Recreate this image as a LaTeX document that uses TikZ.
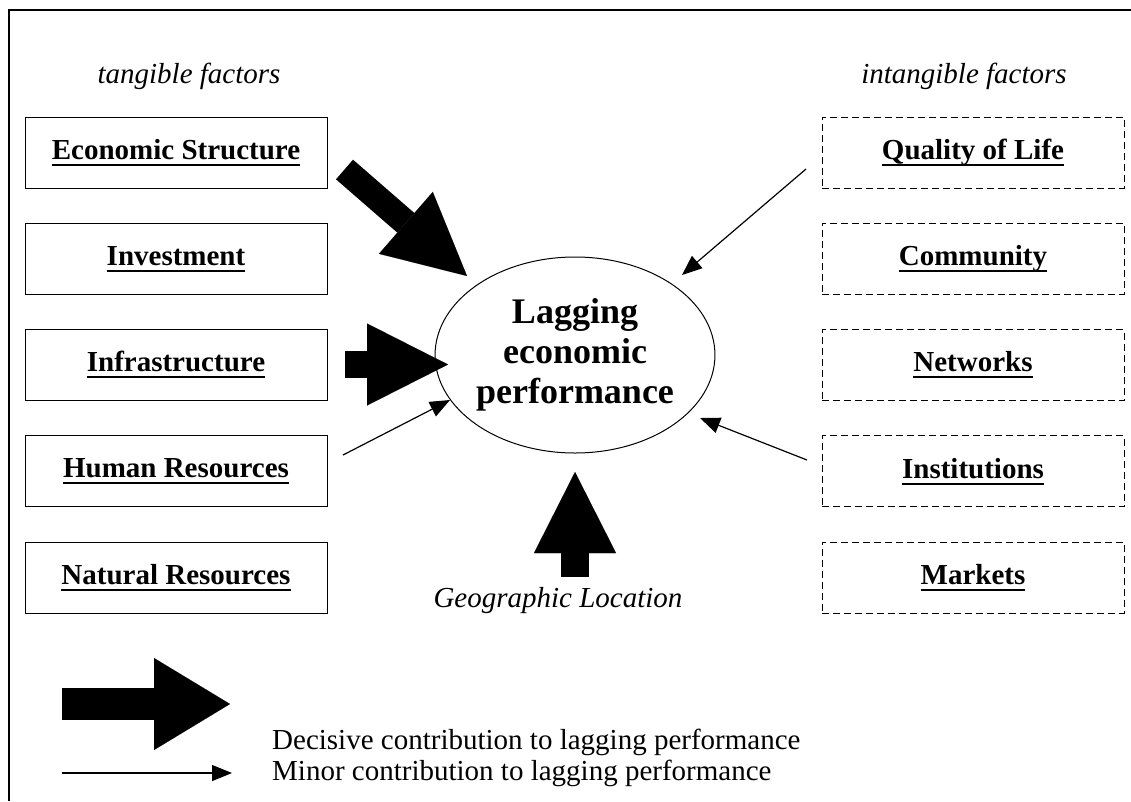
\documentclass[tikz,border=0pt]{standalone}
\usepackage{fontspec}
\setmainfont{Liberation Serif}
\usetikzlibrary{arrows.meta,shapes.geometric}
\newsavebox\ulsave
\newcommand\ulbox[1]{\sbox\ulsave{#1}\rlap{\vrule height -4.5pt depth 6.5pt width \wd\ulsave}\usebox\ulsave}
\begin{document}
\begin{tikzpicture}[x=1pt,y=-1pt,
  solidbox/.style={draw, line width=1pt, minimum width=302pt, minimum height=71pt, inner sep=0pt, font=\fontsize{29}{34}\selectfont\bfseries},
  dashbox/.style={solidbox, dash pattern=on 7pt off 4pt},
  note/.style={font=\fontsize{29}{34}\selectfont\itshape, inner sep=0pt},
  legendtext/.style={font=\fontsize{29}{34}\selectfont, inner sep=0pt, anchor=west},
  fatarrow/.style n args={3}{line width=#1, -{Triangle[length=#2,width=#3,line width=0.01pt]}},
  thinarrow/.style={line width=1.2pt, -{Triangle[length=20pt,width=16pt]}}
]
\useasboundingbox (0,0) rectangle (1131,801);
\fill[white] (0,0) rectangle (1131,801);
% frame
\draw[line width=1.3pt] (9,801) -- (9,10) -- (1131,10);

% headings
\node[note] (tang) at (189,76) {tangible factors};
\node[note] (intang) at (964,76) {intangible factors};

% tangible boxes
\node[solidbox] (econ) at (176,152.5) {\ulbox{Economic Structure}};
\node[solidbox] (inv)  at (176,258.75) {\ulbox{Investment}};
\node[solidbox] (infra) at (176,365) {\ulbox{Infrastructure}};
\node[solidbox] (hum) at (176,471.25) {\ulbox{Human Resources}};
\node[solidbox] (nat) at (176,577.5) {\ulbox{Natural Resources}};

% intangible boxes
\node[dashbox] (qol) at (973,152.5) {\ulbox{Quality of Life}};
\node[dashbox] (comm) at (973,258.75) {\ulbox{Community}};
\node[dashbox] (netw) at (973,365) {\ulbox{Networks}};
\node[dashbox] (inst) at (973,471.25) {\ulbox{Institutions}};
\node[dashbox] (mark) at (973,577.5) {\ulbox{Markets}};

% centre
\node[draw, ellipse, line width=1pt, minimum width=248pt, minimum height=196pt, inner sep=0pt,
      align=center, font=\fontsize{36}{40}\selectfont\bfseries] (lag) at (575,355)
      {Lagging\\economic\\performance};

\node[note] (geo) at (558,601) {Geographic Location};

% arrow end points
\coordinate (econT) at (344.5,169.5);
\coordinate (econH) at (467,276);
\coordinate (infraT) at (345,364.5);
\coordinate (infraH) at (448,364.5);
\coordinate (geoT) at (575,577);
\coordinate (geoH) at (575,472);
\coordinate (humT) at (343,455);
\coordinate (humH) at (450,400);
\coordinate (qolT) at (806,169);
\coordinate (qolH) at (682,275);
\coordinate (instT) at (807,460);
\coordinate (instH) at (700,418);

\draw[fatarrow={26pt}{81pt}{82pt}] (econT) -- (econH);
\draw[fatarrow={27pt}{81pt}{82pt}] (infraT) -- (infraH);
\draw[fatarrow={28pt}{81pt}{82pt}] (geoT) -- (geoH);
\draw[thinarrow] (humT) -- (humH);
\draw[thinarrow] (qolT) -- (qolH);
\draw[thinarrow] (instT) -- (instH);

% legend
\coordinate (legAT) at (62,704);
\coordinate (legAH) at (230,704);
\coordinate (legBT) at (62,773);
\coordinate (legBH) at (232,773);
\draw[fatarrow={32pt}{76pt}{92pt}] (legAT) -- (legAH);
\draw[thinarrow] (legBT) -- (legBH);
\node[legendtext] (decisive) at (272,742) {Decisive contribution to lagging performance};
\node[legendtext] (minor) at (272,773) {Minor contribution to lagging performance};
\end{tikzpicture}
\end{document}
